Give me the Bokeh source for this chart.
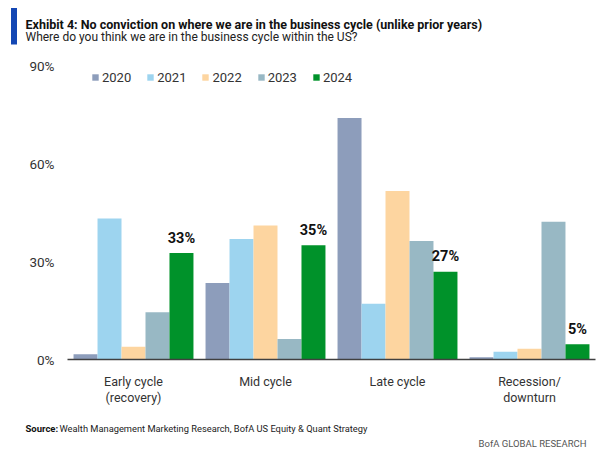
from bokeh.plotting import figure
from bokeh.models import (FactorRange, Range1d, FixedTicker, PrintfTickFormatter,
                          Legend, LegendItem, Label, BoxAnnotation, ColumnDataSource)
from bokeh.transform import dodge
from bokeh.core.properties import value
from bokeh.embed import file_html
from bokeh.resources import INLINE

# ---------------- data ----------------
categories = ["Early cycle\n(recovery)", "Mid cycle", "Late cycle", "Recession/\ndownturn"]
years = ["2020", "2021", "2022", "2023", "2024"]
v2020 = [1.6, 23.4, 73.9, 0.7]
v2021 = [43.2, 36.9, 17.1, 2.4]
v2022 = [3.9, 41.0, 51.6, 3.3]
v2023 = [14.5, 6.3, 36.3, 42.2]
v2024 = [32.6, 35.0, 26.9, 4.7]
labels_2024 = ["33%", "35%", "27%", "5%"]
y_ticks = [0, 30, 60, 90]
colors = ["#8D9DBB", "#9DD4EF", "#FDD5A0", "#98B8C4", "#00922A"]

title_text = "Exhibit 4: No conviction on where we are in the business cycle (unlike prior years)"
subtitle_text = "Where do you think we are in the business cycle within the US?"
source_bold = "Source:"
source_text = "Wealth Management Marketing Research, BofA US Equity & Quant Strategy"
brand_text = "BofA GLOBAL RESEARCH"

FONT = "Roboto"
W = 600
HH, MH, FH = 50, 360, 44   # header, main, footer heights


def blank(height):
    f = figure(width=W, height=height, x_axis_type=None, y_axis_type=None,
               x_range=Range1d(0, 1), y_range=Range1d(0, 1),
               output_backend="svg", toolbar_location=None, min_border=0)
    f.outline_line_color = None
    f.background_fill_color = "white"
    f.border_fill_color = "white"
    return f


# ---------------- header ----------------
hdr = blank(HH)
hdr.add_layout(BoxAnnotation(left=10.5, right=16.5, top=HH - 7.5, bottom=HH - 44,
                             left_units="screen", right_units="screen",
                             top_units="screen", bottom_units="screen",
                             fill_color="#1447B4", fill_alpha=1, line_color=None))
hdr.add_layout(Label(x=25, y=HH - 23.5, x_units="screen", y_units="screen", text=title_text,
                     text_font=FONT, text_font_style="bold", text_font_size="12.5px",
                     text_color="#111111", text_baseline="alphabetic"))
hdr.add_layout(Label(x=25, y=HH - 36, x_units="screen", y_units="screen", text=subtitle_text,
                     text_font=FONT, text_font_size="12px",
                     text_color="#222222", text_baseline="alphabetic"))

# ---------------- main chart ----------------
src = ColumnDataSource(dict(cat=categories, v2020=v2020, v2021=v2021, v2022=v2022,
                            v2023=v2023, v2024=v2024, lab=labels_2024))

p = figure(width=W, height=MH, x_range=FactorRange(*categories, range_padding=0),
           y_range=Range1d(0, 90), output_backend="svg", toolbar_location=None,
           min_border_left=67, min_border_right=5, min_border_top=15, min_border_bottom=51)
p.outline_line_color = None
p.background_fill_color = "white"
p.border_fill_color = "white"
p.xgrid.visible = False
p.ygrid.visible = False

bw = 0.1817
cols = ["v2020", "v2021", "v2022", "v2023", "v2024"]
renderers = []
for i, (c, col) in enumerate(zip(cols, colors)):
    r = p.vbar(x=dodge("cat", (i - 2) * bw, range=p.x_range), top=c, width=bw,
               source=src, fill_color=col, line_color=None)
    renderers.append(r)

p.text(x=dodge("cat", 2 * bw, range=p.x_range), y="v2024", text="lab", source=src,
       text_align="center", text_baseline="alphabetic", y_offset=-15,
       text_font=value(FONT), text_font_style="bold", text_font_size="14.5px",
       text_color="#111111")

p.yaxis.ticker = FixedTicker(ticks=y_ticks)
p.yaxis.formatter = PrintfTickFormatter(format="%d%%")
p.yaxis.axis_line_color = None
p.yaxis.major_tick_line_color = None
p.yaxis.minor_tick_line_color = None
p.yaxis.major_label_standoff = 7
p.yaxis.major_label_text_font = FONT
p.yaxis.major_label_text_font_size = "13.5px"
p.yaxis.major_label_text_color = "#333333"

p.xaxis.axis_line_color = "#404040"
p.xaxis.axis_line_width = 1.5
p.xaxis.major_tick_line_color = None
p.xaxis.minor_tick_line_color = None
p.xaxis.major_label_standoff = 8
p.xaxis.major_label_text_font = FONT
p.xaxis.major_label_text_font_size = "12.5px"
p.xaxis.major_label_text_line_height = 1.1
p.xaxis.major_label_text_color = "#333333"

legend = Legend(items=[LegendItem(label=y, renderers=[r]) for y, r in zip(years, renderers)],
                orientation="horizontal", location=(24, 274), padding=0, margin=0,
                border_line_color=None, background_fill_alpha=0,
                glyph_width=8, glyph_height=8, label_standoff=3, spacing=15,
                label_height=16, label_text_font=FONT, label_text_font_size="13px",
                label_text_color="#333333")
p.add_layout(legend, "center")

# ---------------- footer ----------------
ftr = blank(FH)
ftr.add_layout(Label(x=25, y=FH - 18, x_units="screen", y_units="screen", text=source_bold,
                     text_font=FONT, text_font_style="bold", text_font_size="9.5px",
                     text_color="#111111", text_baseline="alphabetic"))
ftr.add_layout(Label(x=59, y=FH - 18, x_units="screen", y_units="screen", text=source_text,
                     text_font=FONT, text_font_size="9.3px",
                     text_color="#222222", text_baseline="alphabetic"))
ftr.add_layout(Label(x=586, y=FH - 33, x_units="screen", y_units="screen", text=brand_text,
                     text_font=FONT, text_font_size="9.5px", text_align="right",
                     text_color="#555555", text_baseline="alphabetic"))

open("out.html", "w").write(file_html([hdr, p, ftr], INLINE))
